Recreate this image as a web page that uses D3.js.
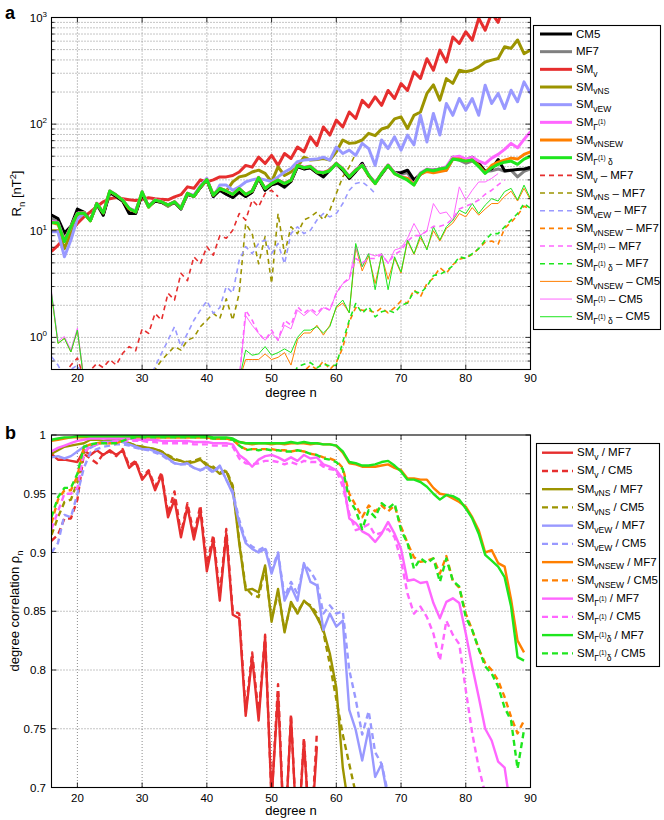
<!DOCTYPE html>
<html><head><meta charset="utf-8">
<script src="https://cdn.jsdelivr.net/npm/d3@7"></script>
<style>body{margin:0;background:#fff}svg{display:block}text{font-family:"Liberation Sans",Arial,Helvetica,sans-serif}</style>
</head><body><svg id="chart" width="664" height="820"></svg>
<script>
// ---------------- DATA ----------------
const xTickValues = [20,30,40,50,60,70,80,90];
const rnTickValues = [1,10,100,1000];
const rnTickExponents = ['0','1','2','3'];
const rhoTickValues = [0.7,0.75,0.8,0.85,0.9,0.95,1];
const rhoTickLabels = ['0.7','0.75','0.8','0.85','0.9','0.95','1'];

// Panel a: R_n [nT^2], degrees 16..90
const rnCM5 = [14,13,9.5,11,16,15,12.5,18,14,23, 21,19,14.5,14.5,22,17,19,18.5,17.5,18.5, 16,22,21,25.5,30,21,24,22,20.5,23,
 21,23,31,24,27,28,25.8,29,40,38, 39,35,32,37,43,37,31,36,43,33, 28,34,41,35,35,37,30,34,37,37, 38,38,49,48,46,49,43,36,38,46.5, 36.5,37,37.5,38,39];
const rnMF7 = [13,12,9,10.5,15,14.5,12.5,17.5,14,22.5, 21,19,15,14.5,22,17,19,18.5,17,18.5, 16,22,21,25.5,30,21,24,22,20.5,23,
 21,23,31,24,27,28,25.5,29,40,38, 39,35,33,38,42,37,31,36,42,33, 28,34,41,35,34,35,28,34,37,37, 37,37,47,46,43,45,42,36,36.5,38, 36,37,32,36,38];
const rnSMv = [6.4,7.3,8.5,10,11.7,13.5,15,16.8,18.7,20, 20.5,20,19.5,19.2,19.7,20.4,20,19.7,19.5,20.8, 21.8,25.8,25,30,28.7,30,32,32,33,35.6,
 41,39.5,49,42.7,51,41,53,47.6,61,55, 76,63,94,79,109,94,130,113,167,145, 180,150,207,174,240,207,309,268,411,320, 494,383,656,570,735,612,982,760,1100,900, 1400,null,null,null,null];
const rnSMvNS = [10,10,6.8,9.5,13.5,14.5,12.5,18,14.5,23, 21,19,16,15,22.5,16.7,19,18.5,17,18.5, 16.5,22,21,25.5,30,21.5,25,23.5,28.7,32,
 33,35.6,37,34.6,28.7,39.7,33,35.6,39.7,49, 46,46.6,47.6,46,55,71,66,67,71,82, 78,90,94,112,117,91,121,130,194,233, 168,267,241,320,310,320,344,383,398,413, 531,513,615,458,494];
const rnSMvEW = [9.8,9.8,5.7,8.2,13,14.5,12.5,18,14.5,23, 21,19.5,16,15.5,22.5,17,19.5,18.7,17.5,18.7, 16.5,22.5,21.5,26.5,31,20.8,26.8,26.8,24,25.8,
 28.7,30,31,30,29,32,35.6,38.4,44.5,46, 46.5,47,49,46,61,53,57,51,66,59, 41,71,59,76,57,79,64,121,68,126, 79,156,121,174,135,174,121,232,156,194, 140,208,162,249,194];
const rnSMG = [12.2,12,8.2,11,14.6,14.8,12.5,18.2,14.8,23.7, 21.7,19.5,16.3,15.1,23.3,16.8,19.5,18.8,17.5,18.8, 16.3,22.5,21.1,26,30.5,21.8,25,23.8,22,25,
 22,23.8,31.8,25,28,30,28,30,41.5,39.5, 40.5,36,35.5,37,43,38.5,32.5,37.5,41.5,33.5, 28,34.8,41.5,35,32.5,31,27.5,35,38,37, 38,40,49,50,47,49,45,42.7,48,52, 58,66,60,72,85];
const rnSMvNSEW = [12,11.5,8,10.8,14.5,14.7,12.4,18,14.7,23.5, 21.6,19.4,16,15,23,16.7,19.4,18.7,17.4,18.7, 16.2,22.4,21,25.8,30,21.6,24.9,23.6,21.9,24.9,
 21.9,23.6,31.6,24.9,27.7,29.8,27.7,29.8,41,39, 40,35.6,35,37,42.7,38,32,37,41,33, 27.7,34.4,41,34.4,32,31,27,34,36,35, 36,37,47,47,45,46,41,35,41,44, 46,48,47,52,55];
const rnSMGd = [11.9,11.9,7.9,10.9,14.5,14.7,12.4,18,14.7,23.6, 21.6,19.4,16.2,15,23.2,16.7,19.4,18.7,17.4,18.7, 16.2,22.4,21,25.8,30.2,21.6,24.9,23.6,21.9,24.9,
 21.9,23.6,31.6,24.9,27.7,29.8,27.7,29.8,41,39, 40,35.6,35,36.5,42.7,38,32,37,41,33.2, 27.7,34.4,41,34.4,32,29.8,26.8,34.4,37.5,36.5, 38,39,47,46,45,46,40,34.5,39,42, 44,45,42,47,50];
// differences (first degree of each list given separately)
const dSMv_MF7 = [0.45,0.55,0.64,0.42,0.49,0.57,0.52,0.62,0.55,0.71,0.82,0.75,1.2,1.09,1.68,1.45,2.6,2.24,4.0,3.4,5.7,4.9,7.1,5.9,9.0,8.5,10.1,14.5,12.6,19.4,16.8,22.4,24,20.9];
const dSMvNS_MF7 = [0.4,0.5,0.61,0.71,0.82,0.76,0.94,1.0,1.26,1.45,1.68,1.5,2.3,1.45,2.6,11.7,9.4,4.9,8.8,3.2,14.5,6.1,10.9,9.4,12.6,13.5,15,12.6,15.6,22.4,32,39.7,53];
const dSMvEW_MF7_a = [0.66,0.55,0.42,0.5,0.55,0.4];
const dSMvEW_MF7_b = [0.4,0.53,0.71,0.94,1.26,0.82,1.09,1.45,1.8,2.2,1.68,1.9,3.0,2.6,5.3,7.1,6.1,7.6,8.2,6.1,7.6,4.9,9.4,10.9,9.4,10.1,12.6,14.5,13.5,14.5,18,24,27.8,28.7,25.8,22.4];
const dSMvNSEW_MF7 = [0.45,0.5,0.48,0.55,0.5,0.6,0.5,0.58,0.8,1.4,1.9,1.8,1.8,1.7,1.9,1.7,1.9,2.2,2.1,2.8,2.4,3.2,3.6,4.5,4.0,4.8,5.4,5.6,6.0,6.8,7.8,8.0,7.5,10.5,12,14,17,16];
const dSMG_MF7 = [0.4,1.8,1.45,1.09,0.94,1.17,0.94,1.45,1.3,1.94,1.68,1.87,1.68,1.94,1.8,2.6,3.2,3.6,5.5,5.0,5.5,5.5,6.0,5.0,6.0,6.5,8,9,9,10,11,11,11.5,13,16,17,18,19.4,22,24,27,30];
const dSMGd_MF7 = [0.4,0.53,0.56,0.58,0.52,0.56,0.54,0.55,0.91,1.45,2.08,1.68,1.94,1.56,1.74,1.8,1.7,2.0,2.1,2.7,2.6,3.0,3.8,3.9,4.2,4.7,5.7,5.5,6.1,6.8,8.2,9.4,9.4,10.9,12.6,14.5,18,16.2];
const dSMvNSEW_CM5_a = [2.5,0.88,0.98,0.73,1.17,0.4];
const dSMvNSEW_CM5_b = [0.4,0.62,0.62,0.62,0.7,0.62,0.65,0.72,0.55,0.95,1.1,1.1,1.3,1.05,1.3,1.9,2.1,1.7,7.0,4.2,5.8,3.2,5.8,3.5,5.5,4.0,8.0,6.0,8.6,6.8,10,8,10.5,11.8,14.5,13.5,16.5,14,16,18,18,21,23.5,19,25,19.5];
const dSMG_CM5_a = [2.7,0.92,1.02,0.76,1.22,0.4];
const dSMG_CM5_b = [0.4,1.6,1.3,1.09,0.94,1.1,0.94,1.3,1.2,1.8,1.6,1.8,1.6,1.9,1.8,2.6,3.2,3.5,7.1,4.6,6.1,5.8,6.1,4.9,6.6,6.9,8.5,11.7,9.1,10,18,14.5,15,12.5,25.8,19.4,24,28.7,28.7,31,34.4];
const dSMGd_CM5_a = [2.6,0.88,0.98,0.73,1.17,0.4];
const dSMGd_CM5_b = [0.4,0.76,0.68,0.7,0.82,0.68,0.72,0.78,0.72,1.0,1.17,1.17,1.26,1.1,1.26,1.94,2.24,1.7,7.6,4.6,6.1,2.8,6.1,2.8,5.7,4.1,8.2,6.1,9.1,6.6,10.9,8.2,10.9,12.5,15.6,14.5,18,14.5,17.4,20,19,23.3,25,19.4,26.8,20];

// Panel b: degree correlation rho_n, all lists start at degree 16
const cSMv_MF7 = [0.984,0.979,0.979,0.978,0.977,0.987,0.983,0.987,0.983,0.987, 0.983,0.987,0.972,0.977,0.962,0.969,0.953,0.966,0.930,0.945,
 0.913,0.939,0.911,0.936,0.884,0.911,0.859,0.916,0.847,0.844, 0.761,0.811,0.757,0.828,0.69,0.78,0.65,0.76,0.65,0.74,0.65,0.735];
const cSMv_CM5 = [0.91,0.915,0.929,0.929,0.945,0.984,0.98,0.976,0.984,0.986, 0.982,0.988,0.974,0.978,0.964,0.970,0.956,0.968,0.933,0.952,
 0.916,0.942,0.915,0.94,0.89,0.915,0.864,0.92,0.85,0.848, 0.765,0.815,0.762,0.83,0.69,0.788,0.65,0.762,0.65,0.742,0.65,0.747];
const cSMvNS_MF7 = [0.984,0.987,0.99,0.991,0.992,0.993,0.996,0.996,0.995,0.996, 0.996,0.995,0.993,0.991,0.99,0.989,0.988,0.986,0.982,0.979,
 0.978,0.976,0.977,0.979,0.974,0.972,0.967,0.969,0.955,0.908, 0.868,0.869,0.866,0.889,0.841,0.869,0.832,0.858,0.848,0.859, 0.854,0.845,0.834,0.814,0.785,0.717,0.68];
const cSMvNS_CM5 = [0.915,0.93,0.943,0.945,0.96,0.985,0.99,0.992,0.994,0.995, 0.996,0.995,0.993,0.991,0.99,0.989,0.988,0.986,0.983,0.98,
 0.978,0.977,0.978,0.98,0.975,0.973,0.968,0.97,0.957,0.91, 0.87,0.864,0.862,0.887,0.843,0.866,0.834,0.856,0.85,0.858, 0.855,0.848,0.832,0.805,0.775,0.745,0.72,0.695];
const cSMvEW_MF7 = [0.981,0.982,0.98,0.982,0.986,0.99,0.989,0.992,0.994,0.994, 0.995,0.994,0.992,0.99,0.988,0.988,0.986,0.984,0.98,0.976,
 0.975,0.976,0.972,0.97,0.973,0.969,0.974,0.962,0.95,0.925, 0.908,0.903,0.9,0.903,0.882,0.899,0.859,0.871,0.859,0.891, 0.875,0.872,0.834,0.848,0.837,0.842,0.766,0.749,0.723,0.75, 0.709,0.72,0.69];
const cSMvEW_CM5 = [0.9,0.908,0.932,0.93,0.95,0.972,0.985,0.988,0.99,0.991, 0.992,0.992,0.991,0.989,0.988,0.987,0.985,0.983,0.979,0.976,
 0.975,0.975,0.972,0.97,0.972,0.968,0.973,0.962,0.952,0.928, 0.91,0.905,0.902,0.905,0.885,0.9,0.862,0.875,0.865,0.89, 0.884,0.875,0.848,0.855,0.848,0.85,0.8,0.775,0.745,0.765, 0.73,0.72,0.695];
const cSMvNSEW_MF7 = [0.995,0.996,0.997,0.998,0.998,0.998,0.998,0.998,0.998,0.998, 0.998,0.998,0.998,0.998,0.998,0.998,0.998,0.998,0.998,0.998,
 0.998,0.998,0.998,0.998,0.998,0.997,0.997,0.997,0.996,0.994, 0.993,0.992,0.993,0.993,0.992,0.993,0.992,0.993,0.993,0.993,
 0.992,0.993,0.992,0.992,0.991,0.985,0.976,0.975,0.973,0.973, 0.973,0.974,0.975,0.972,0.97,0.963,0.963,0.962,0.962,0.955,
 0.95,0.949,0.946,0.943,0.939,0.93,0.919,0.9,0.902,0.891, 0.888,0.86,0.825,0.815];
const cSMvNSEW_CM5 = [0.925,0.945,0.953,0.953,0.965,0.99,0.992,0.993,0.993,0.993, 0.993,0.995,0.997,0.998,0.998,0.998,0.998,0.998,0.998,0.998,
 0.998,0.998,0.998,0.998,0.998,0.997,0.997,0.997,0.996,0.991, 0.988,0.988,0.988,0.988,0.988,0.987,0.987,0.986,0.987,0.986,
 0.984,0.983,0.981,0.98,0.978,0.972,0.95,0.94,0.93,0.94, 0.935,0.94,0.935,0.94,0.922,0.908,0.896,0.892,0.893,0.895,
 0.882,0.897,0.876,0.87,0.848,0.834,0.818,0.806,0.8,0.791, 0.777,0.76,0.746,0.757];
const cSMG_MF7 = [0.986,0.989,0.991,0.993,0.995,0.996,0.997,0.997,0.997,0.997, 0.997,0.997,0.997,0.996,0.996,0.996,0.996,0.995,0.995,0.995,
 0.995,0.995,0.994,0.994,0.994,0.993,0.993,0.993,0.992,0.983, 0.979,0.973,0.979,0.982,0.983,0.981,0.978,0.981,0.978,0.983,
 0.98,0.981,0.975,0.973,0.97,0.963,0.929,0.925,0.918,0.915, 0.909,0.916,0.926,0.916,0.903,0.876,0.877,0.874,0.875,0.857,
 0.844,0.858,0.861,0.857,0.831,0.803,0.777,0.75,0.74,0.722, 0.717,0.68];
const cSMG_CM5 = [0.92,0.935,0.95,0.95,0.955,0.985,0.99,0.992,0.993,0.994, 0.995,0.995,0.995,0.995,0.995,0.994,0.994,0.993,0.993,0.993,
 0.993,0.993,0.992,0.992,0.992,0.991,0.991,0.991,0.99,0.98, 0.976,0.975,0.976,0.978,0.978,0.977,0.975,0.977,0.975,0.978,
 0.977,0.977,0.973,0.971,0.97,0.956,0.933,0.919,0.921,0.924, 0.915,0.917,0.92,0.913,0.893,0.865,0.848,0.854,0.845,0.831,
 0.808,0.842,0.83,0.822,0.783,0.746,0.717,0.695];
const cSMGd_MF7 = [0.996,0.997,0.998,0.998,0.999,0.999,0.999,0.999,0.999,0.999, 0.999,0.999,0.999,0.999,0.999,0.999,0.999,0.999,0.999,0.999,
 0.999,0.999,0.999,0.999,0.999,0.998,0.998,0.998,0.997,0.994, 0.993,0.993,0.993,0.993,0.993,0.993,0.993,0.994,0.993,0.994,
 0.993,0.993,0.992,0.992,0.991,0.986,0.977,0.976,0.974,0.974, 0.975,0.977,0.978,0.974,0.969,0.962,0.962,0.96,0.956,0.95,
 0.945,0.949,0.948,0.945,0.9375,0.929,0.916,0.898,0.893,0.888, 0.879,0.854,0.811,0.808];
const cSMGd_CM5 = [0.93,0.947,0.955,0.955,0.967,0.99,0.992,0.993,0.993,0.993, 0.993,0.995,0.997,0.998,0.998,0.998,0.998,0.998,0.998,0.998,
 0.998,0.998,0.998,0.998,0.998,0.997,0.997,0.997,0.996,0.991, 0.987,0.988,0.987,0.988,0.987,0.987,0.986,0.986,0.987,0.986,
 0.984,0.983,0.98,0.979,0.977,0.971,0.945,0.936,0.92,0.936, 0.93,0.942,0.9375,0.942,0.919,0.908,0.886,0.895,0.891,0.895,
 0.875,0.895,0.876,0.871,0.845,0.834,0.818,0.803,0.797,0.786, 0.768,0.757,0.716,0.749];

// ---------------- STYLE ----------------
const C = {black:'#000000', gray:'#808080', red:'#e62e2e', olive:'#9c9400', blue:'#9999ff', magenta:'#ff66ff', orange:'#ff7f00', green:'#1ee61e'};
const DASH = '5,4';

const svg = d3.select('#chart');
svg.append('rect').attr('width',664).attr('height',820).attr('fill','#fff');

const X0 = 51.5, X1 = 530.5;
const x = d3.scaleLinear().domain([16,90]).range([X0,X1]);
const yR = d3.scaleLog().domain([0.5,1000]).range([369.5,17.5]);
const yC = d3.scaleLinear().domain([0.7,1]).range([787.5,435]);

function pts(segs){ // segs: [[startDegree, values], ...]
  const out=[];
  segs.forEach(([s,vals],k)=>{ if(k>0) out.push({n:null,v:null}); vals.forEach((v,i)=>out.push({n:s+i,v:v})); });
  return out;
}

// rich text helper
function rich(t, parts, base){
  const lv = {n:{o:0,s:1}, sub:{o:0.32*base,s:0.74}, ss:{o:-0.12*base,s:0.55}, sup:{o:-0.42*base,s:0.72}};
  let cur=0;
  parts.forEach(([s,l])=>{ const L=lv[l]; t.append('tspan').attr('dy',(L.o-cur).toFixed(2)).attr('font-size',(base*L.s).toFixed(2)).text(s); cur=L.o; });
}
const SUB = {
  v:[['SM','n'],['v','sub']], vNS:[['SM','n'],['vNS','sub']], vEW:[['SM','n'],['vEW','sub']], vNSEW:[['SM','n'],['vNSEW','sub']],
  G:[['SM','n'],['Γ','sub'],['(1)','ss']], Gd:[['SM','n'],['Γ','sub'],['(1)','ss'],[' δ','sub']], Gd2:[['SM','n'],['Γ','sub'],['(1)','ss'],['δ','sub']]
};

const GRID = {stroke:'#6e6e6e', w:0.8, dash:'1,2'};
function panelFrame(yTop, yBot, yScale, gridY){
  const g = svg.append('g');
  xTickValues.forEach(v=>{ if(v<90) g.append('line').attr('x1',x(v)).attr('x2',x(v)).attr('y1',yTop).attr('y2',yBot)
     .attr('stroke',GRID.stroke).attr('stroke-width',GRID.w).attr('stroke-dasharray',GRID.dash); });
  gridY.forEach(v=> g.append('line').attr('x1',X0).attr('x2',X1).attr('y1',yScale(v)).attr('y2',yScale(v))
     .attr('stroke',GRID.stroke).attr('stroke-width',GRID.w).attr('stroke-dasharray',GRID.dash));
  return g;
}
function panelAxes(yTop, yBot, yScale, majorY, minorY, labOff){
  const g = svg.append('g').attr('stroke','#000').attr('stroke-width',0.8);
  xTickValues.forEach(v=>{ g.append('line').attr('x1',x(v)).attr('x2',x(v)).attr('y1',yBot).attr('y2',yBot-5);
                          g.append('line').attr('x1',x(v)).attr('x2',x(v)).attr('y1',yTop).attr('y2',yTop+5); });
  majorY.forEach(v=>{ const y=yScale(v); g.append('line').attr('x1',X0).attr('x2',X0+5).attr('y1',y).attr('y2',y);
                      g.append('line').attr('x1',X1).attr('x2',X1-5).attr('y1',y).attr('y2',y); });
  minorY.forEach(v=>{ const y=yScale(v); g.append('line').attr('x1',X0).attr('x2',X0+3).attr('y1',y).attr('y2',y);
                      g.append('line').attr('x1',X1).attr('x2',X1-3).attr('y1',y).attr('y2',y); });
  svg.append('rect').attr('x',X0).attr('y',yTop).attr('width',X1-X0).attr('height',yBot-yTop)
     .attr('fill','none').attr('stroke','#000').attr('stroke-width',1.1);
  xTickValues.forEach(v=> svg.append('text').attr('x',x(v)).attr('y',yBot+labOff).attr('text-anchor','middle').attr('font-size',11.5).text(v));
}

// ---------------- PANEL A ----------------
const minorR = yR.ticks().filter(v=>v>0.5 && v<1000 && !rnTickValues.includes(v));
panelFrame(17.5, 369.5, yR, minorR.concat([1,10,100]));
svg.append('clipPath').attr('id','clipA').append('rect').attr('x',X0).attr('y',17.5).attr('width',X1-X0).attr('height',352);
const gA = svg.append('g').attr('clip-path','url(#clipA)');
const lineA = d3.line().defined(d=>d.v!=null).x(d=>x(d.n)).y(d=>yR(d.v));

const topSeries = [
  {key:'thinO', segs:[[16,dSMvNSEW_CM5_a],[45,dSMvNSEW_CM5_b]], c:C.orange, w:1, dash:null, lab:SUB.vNSEW.concat([[' – CM5','n']])},
  {key:'thinM', segs:[[16,dSMG_CM5_a],[45,dSMG_CM5_b]], c:C.magenta, w:1, dash:null, lab:SUB.G.concat([[' – CM5','n']])},
  {key:'thinG', segs:[[16,dSMGd_CM5_a],[45,dSMGd_CM5_b]], c:C.green, w:1, dash:null, lab:SUB.Gd.concat([[' – CM5','n']])},
  {key:'dR', segs:[[18,dSMv_MF7]], c:C.red, w:1.6, dash:DASH, lab:SUB.v.concat([[' – MF7','n']])},
  {key:'dO', segs:[[31,dSMvNS_MF7]], c:C.olive, w:1.6, dash:DASH, lab:SUB.vNS.concat([[' – MF7','n']])},
  {key:'dB', segs:[[16,dSMvEW_MF7_a],[31,dSMvEW_MF7_b]], c:C.blue, w:1.6, dash:DASH, lab:SUB.vEW.concat([[' – MF7','n']])},
  {key:'dOr', segs:[[53,dSMvNSEW_MF7]], c:C.orange, w:1.6, dash:DASH, lab:SUB.vNSEW.concat([[' – MF7','n']])},
  {key:'dM', segs:[[45,dSMG_MF7]], c:C.magenta, w:1.6, dash:DASH, lab:SUB.G.concat([[' – MF7','n']])},
  {key:'dG', segs:[[53,dSMGd_MF7]], c:C.green, w:1.6, dash:DASH, lab:SUB.Gd.concat([[' – MF7','n']])},
  {key:'SMv', segs:[[16,rnSMv]], c:C.red, w:3, dash:null, lab:SUB.v},
  {key:'SMvNS', segs:[[16,rnSMvNS]], c:C.olive, w:3, dash:null, lab:SUB.vNS},
  {key:'SMvEW', segs:[[16,rnSMvEW]], c:C.blue, w:3, dash:null, lab:SUB.vEW},
  {key:'MF7', segs:[[16,rnMF7]], c:C.gray, w:3, dash:null, lab:[['MF7','n']]},
  {key:'CM5', segs:[[16,rnCM5]], c:C.black, w:3, dash:null, lab:[['CM5','n']]},
  {key:'SMG', segs:[[16,rnSMG]], c:C.magenta, w:3, dash:null, lab:SUB.G},
  {key:'SMvNSEW', segs:[[16,rnSMvNSEW]], c:C.orange, w:3, dash:null, lab:SUB.vNSEW},
  {key:'SMGd', segs:[[16,rnSMGd]], c:C.green, w:3, dash:null, lab:SUB.Gd}
];
topSeries.forEach(s=> gA.append('path').datum(pts(s.segs)).attr('d',lineA).attr('fill','none')
   .attr('stroke',s.c).attr('stroke-width',s.w).attr('stroke-dasharray',s.dash).attr('stroke-linejoin','round'));
panelAxes(17.5, 369.5, yR, rnTickValues, minorR, 12);
rnTickValues.forEach((v,i)=>{ const t=svg.append('text').attr('x',47).attr('y',yR(v)+4).attr('text-anchor','end').attr('font-size',11.5);
   t.append('tspan').text('10'); t.append('tspan').attr('dy',-5).attr('font-size',8).text(rnTickExponents[i]); });
svg.append('text').attr('x',(X0+X1)/2).attr('y',397).attr('text-anchor','middle').attr('font-size',13).text('degree n');
{ const t=svg.append('text').attr('transform','translate(21,193.5) rotate(-90)').attr('text-anchor','middle').attr('font-size',13);
  rich(t,[['R','n'],['n','sub'],[' [nT','n'],['2','sup'],[']','n']],13); }
svg.append('text').attr('x',5).attr('y',19).attr('font-size',18).attr('font-weight','bold').text('a');

// legend A
const legAOrder = ['CM5','MF7','SMv','SMvNS','SMvEW','SMG','SMvNSEW','SMGd','dR','dO','dB','dOr','dM','dG','thinO','thinM','thinG'];
svg.append('rect').attr('x',533.5).attr('y',25.5).attr('width',127).attr('height',304).attr('fill','#fff').attr('stroke','#000').attr('stroke-width',1.1);
legAOrder.forEach((k,i)=>{ const s=topSeries.find(d=>d.key===k); const y=34+i*17.67;
  svg.append('line').attr('x1',540).attr('x2',572).attr('y1',y).attr('y2',y).attr('stroke',s.c).attr('stroke-width',s.w).attr('stroke-dasharray',s.dash);
  const t=svg.append('text').attr('x',576).attr('y',y+3.5).attr('font-size',11.5); rich(t,s.lab,11.5); });

// ---------------- PANEL B ----------------
panelFrame(435, 787.5, yC, rhoTickValues.filter(v=>v>0.7 && v<1));
svg.append('clipPath').attr('id','clipB').append('rect').attr('x',X0).attr('y',435).attr('width',X1-X0).attr('height',352.5);
const gB = svg.append('g').attr('clip-path','url(#clipB)');
const lineB = d3.line().defined(d=>d.v!=null).x(d=>x(d.n)).y(d=>yC(d.v));
const botSeries = [
  {d:cSMv_MF7, c:C.red, dash:null, lab:SUB.v.concat([[' / MF7','n']])},
  {d:cSMv_CM5, c:C.red, dash:DASH, lab:SUB.v.concat([[' / CM5','n']])},
  {d:cSMvNS_MF7, c:C.olive, dash:null, lab:SUB.vNS.concat([[' / MF7','n']])},
  {d:cSMvNS_CM5, c:C.olive, dash:DASH, lab:SUB.vNS.concat([[' / CM5','n']])},
  {d:cSMvEW_MF7, c:C.blue, dash:null, lab:SUB.vEW.concat([[' / MF7','n']])},
  {d:cSMvEW_CM5, c:C.blue, dash:DASH, lab:SUB.vEW.concat([[' / CM5','n']])},
  {d:cSMvNSEW_MF7, c:C.orange, dash:null, lab:SUB.vNSEW.concat([[' / MF7','n']])},
  {d:cSMvNSEW_CM5, c:C.orange, dash:DASH, lab:SUB.vNSEW.concat([[' / CM5','n']])},
  {d:cSMG_MF7, c:C.magenta, dash:null, lab:SUB.G.concat([[' / MF7','n']])},
  {d:cSMG_CM5, c:C.magenta, dash:DASH, lab:SUB.G.concat([[' / CM5','n']])},
  {d:cSMGd_MF7, c:C.green, dash:null, lab:SUB.Gd2.concat([[' / MF7','n']])},
  {d:cSMGd_CM5, c:C.green, dash:DASH, lab:SUB.Gd2.concat([[' / CM5','n']])}
];
botSeries.forEach(s=> gB.append('path').datum(pts([[16,s.d]])).attr('d',lineB).attr('fill','none')
   .attr('stroke',s.c).attr('stroke-width',2.4).attr('stroke-dasharray',s.dash?'6,4':null).attr('stroke-linejoin','round'));
panelAxes(435, 787.5, yC, rhoTickValues, [], 14);
rhoTickValues.forEach((v,i)=> svg.append('text').attr('x',46).attr('y',yC(v)+4).attr('text-anchor','end').attr('font-size',11.5).text(rhoTickLabels[i]));
svg.append('text').attr('x',(X0+X1)/2).attr('y',815).attr('text-anchor','middle').attr('font-size',13).text('degree n');
{ const t=svg.append('text').attr('transform','translate(19,611) rotate(-90)').attr('text-anchor','middle').attr('font-size',13);
  rich(t,[['degree correlation ρ','n'],['n','sub']],13); }
svg.append('text').attr('x',5).attr('y',439).attr('font-size',18).attr('font-weight','bold').text('b');

// legend B
svg.append('rect').attr('x',536.5).attr('y',443.5).attr('width',123).attr('height',223).attr('fill','#fff').attr('stroke','#000').attr('stroke-width',1.1);
botSeries.forEach((s,i)=>{ const y=452.7+i*18.24;
  svg.append('line').attr('x1',542).attr('x2',573).attr('y1',y).attr('y2',y).attr('stroke',s.c).attr('stroke-width',2.4).attr('stroke-dasharray',s.dash?'6,4':null);
  const t=svg.append('text').attr('x',577).attr('y',y+3.5).attr('font-size',11.5); rich(t,s.lab,11.5); });
</script></body></html>
